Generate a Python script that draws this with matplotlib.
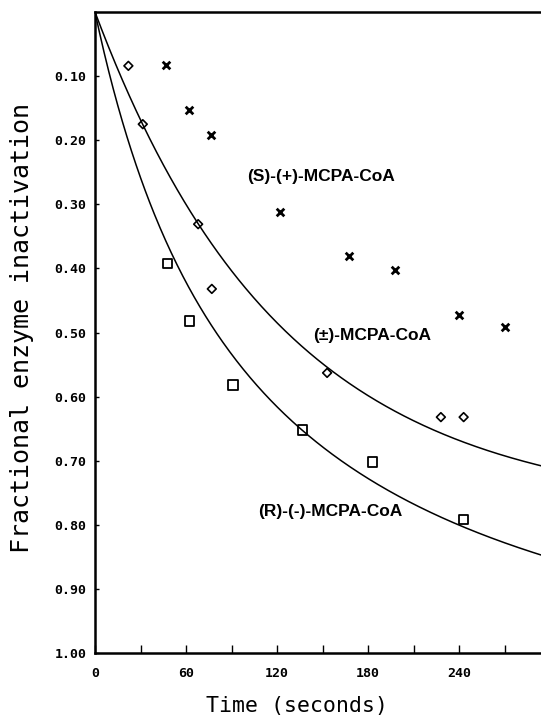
"""Fractional enzyme inactivation by MCPA-CoA enantiomers over time."""

import matplotlib
matplotlib.use("Agg")
import matplotlib.pyplot as plt
import numpy as np

t_racemic = [22, 31.5, 68, 77, 153, 228, 243]
y_racemic = [0.084, 0.175, 0.331, 0.432, 0.563, 0.632, 0.632]

t_s = [47, 62, 76.5, 122, 167.5, 198, 240, 270]
y_s = [0.083, 0.153, 0.192, 0.312, 0.381, 0.402, 0.473, 0.491]

t_r = [48, 62.5, 91, 137, 183, 243]
y_r = [0.392, 0.482, 0.582, 0.652, 0.702, 0.792]

# Fitted curve parameters
racemic_amp, racemic_k = 0.78, 0.0081      # A * (1 - exp(-k t))
r_amp, r_half = 1.143, 102.7               # A * t / (B + t)

x_ticks = [0, 60, 120, 180, 240]
y_ticks = [0.10, 0.20, 0.30, 0.40, 0.50, 0.60, 0.70, 0.80, 0.90, 1.00]

labels = {
    "(S)-(+)-MCPA-CoA": (100, 0.256),
    "(±)-MCPA-CoA": (143.5, 0.505),
    "(R)-(-)-MCPA-CoA": (107.5, 0.780),
}


def main():
    fig = plt.figure(figsize=(5.41, 7.2), dpi=100)
    ax = fig.add_axes([95 / 541, 1 - 653 / 720, 1 - 95 / 541, 641 / 720])

    t = np.linspace(0, 300, 400)
    ax.plot(t, racemic_amp * (1 - np.exp(-racemic_k * t)), color="black", linewidth=1.1)
    ax.plot(t, r_amp * t / (r_half + t), color="black", linewidth=1.1)

    ax.scatter(t_racemic, y_racemic, marker="D", s=20, facecolors="none",
               edgecolors="black", linewidths=1.2, zorder=3)
    ax.scatter(t_s, y_s, marker="x", s=30, color="black", linewidths=2.0, zorder=3)
    ax.scatter(t_r, y_r, marker="s", s=45, facecolors="none",
               edgecolors="black", linewidths=1.3, zorder=3)

    for text, (x, y) in labels.items():
        ax.text(x, y, text, fontsize=12.5, fontweight="bold", family="Liberation Sans",
                ha="left", va="center")

    ax.set_xlim(0, 294)
    ax.set_ylim(1.0, 0.0)

    ax.set_xticks(x_ticks)
    ax.set_xticklabels([str(v) for v in x_ticks])
    ax.set_xticks(np.arange(30, 300, 60), minor=True)
    ax.set_yticks(y_ticks)
    ax.set_yticklabels([f"{v:.2f}" for v in y_ticks])

    ax.tick_params(axis="x", which="both", direction="in", length=6, width=1, pad=10)
    ax.tick_params(axis="y", direction="in", length=3, width=1, pad=6)
    for lab in ax.get_xticklabels() + ax.get_yticklabels():
        lab.set_family("DejaVu Sans Mono")
        lab.set_fontweight("bold")
        lab.set_fontsize(9.5)

    for side in ["left", "bottom", "top"]:
        ax.spines[side].set_linewidth(1.8)
    ax.spines["right"].set_visible(False)

    fig.text(22 / 541, 1 - 328 / 720, "Fractional enzyme inactivation", rotation=90,
             family="DejaVu Sans Mono", fontsize=18, ha="center", va="center")
    fig.text(297 / 541, 1 - 706 / 720, "Time (seconds)",
             family="DejaVu Sans Mono", fontsize=15.5, ha="center", va="center")

    fig.savefig("out.png", dpi=100)


if __name__ == "__main__":
    main()
